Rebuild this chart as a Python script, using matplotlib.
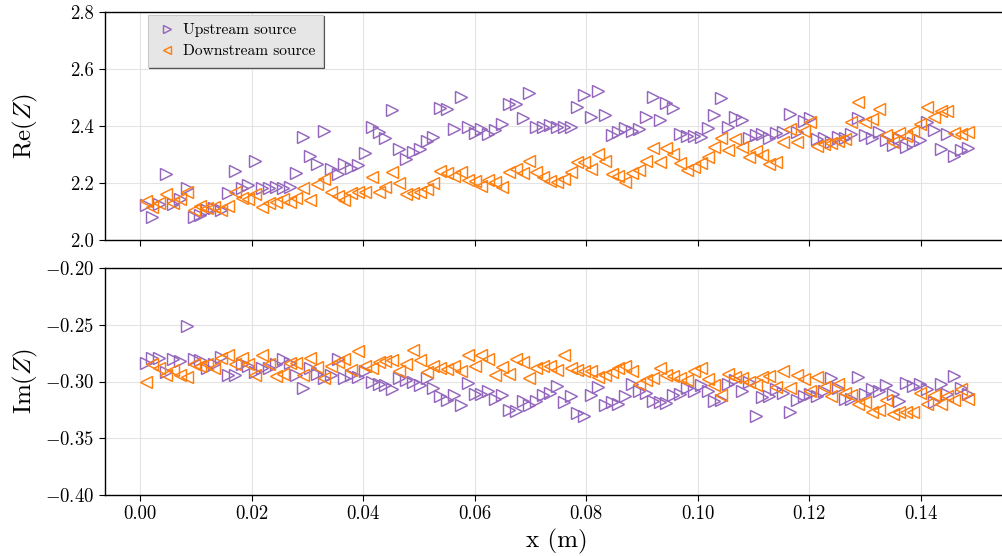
import numpy as np
import matplotlib
matplotlib.use("Agg")
import matplotlib.pyplot as plt

plt.rcParams["font.family"] = "serif"
plt.rcParams["font.serif"] = ["cmr10", "DejaVu Serif"]
plt.rcParams["mathtext.fontset"] = "cm"
plt.rcParams["axes.formatter.use_mathtext"] = True
plt.rcParams["axes.unicode_minus"] = True

# Measurement positions along the duct (m)
x_pos = np.linspace(0.001, 0.1485, 121)

# Real part of the impedance
re_upstream = [
    2.123, 2.080, 2.125, 2.232, 2.125, 2.144, 2.181, 2.080, 2.088, 2.105, 2.111, 2.105, 2.164, 2.243, 2.184, 2.193,
    2.278, 2.184, 2.184, 2.187, 2.184, 2.187, 2.236, 2.362, 2.295, 2.266, 2.383, 2.248, 2.232, 2.266, 2.252,
    2.263, 2.306, 2.398, 2.380, 2.359, 2.456, 2.320, 2.284, 2.310, 2.320, 2.347, 2.361, 2.464, 2.459, 2.388, 2.503,
    2.395, 2.374, 2.389, 2.371, 2.386, 2.406, 2.476, 2.476, 2.427, 2.515, 2.395, 2.395, 2.403, 2.398, 2.395,
    2.395, 2.468, 2.509, 2.433, 2.523, 2.439, 2.368, 2.380, 2.392, 2.382, 2.389, 2.430, 2.503, 2.421, 2.480, 2.464,
    2.371, 2.366, 2.366, 2.362, 2.394, 2.439, 2.497, 2.398, 2.433, 2.421, 2.357, 2.368, 2.371, 2.359, 2.374, 2.380,
    2.441, 2.380, 2.418, 2.429, 2.354, 2.357, 2.345, 2.362, 2.359, 2.371, 2.427, 2.368, 2.359, 2.380, 2.351, 2.333,
    2.359, 2.327, 2.339, 2.351, 2.413, 2.386, 2.319, 2.371, 2.295, 2.316, 2.324,
]
re_downstream = [
    2.137, 2.117, 2.129, 2.160, 2.129, 2.144, 2.170, 2.105, 2.119, 2.113, 2.117, 2.105, 2.120, 2.169, 2.148, 2.144,
    2.160, 2.117, 2.129, 2.134, 2.144, 2.132, 2.148, 2.181, 2.140, 2.195, 2.214, 2.167, 2.155, 2.140, 2.164,
    2.167, 2.167, 2.222, 2.167, 2.187, 2.237, 2.199, 2.160, 2.164, 2.169, 2.179, 2.199, 2.243, 2.234, 2.226, 2.237,
    2.210, 2.207, 2.190, 2.210, 2.202, 2.187, 2.239, 2.249, 2.234, 2.277, 2.239, 2.222, 2.207, 2.202, 2.214,
    2.237, 2.273, 2.273, 2.249, 2.301, 2.277, 2.230, 2.226, 2.202, 2.234, 2.246, 2.277, 2.324, 2.275, 2.324, 2.301,
    2.269, 2.246, 2.257, 2.269, 2.292, 2.327, 2.357, 2.316, 2.354, 2.327, 2.292, 2.312, 2.298, 2.266, 2.273, 2.345,
    2.389, 2.345, 2.382, 2.413, 2.331, 2.336, 2.339, 2.347, 2.354, 2.413, 2.483, 2.415, 2.425, 2.460, 2.368, 2.345,
    2.374, 2.366, 2.382, 2.406, 2.468, 2.433, 2.452, 2.452, 2.374, 2.371, 2.378,
]

# Imaginary part of the impedance
im_upstream = [
    -0.284, -0.279, -0.279, -0.292, -0.280, -0.282, -0.251, -0.280, -0.281, -0.288, -0.285, -0.278, -0.294, -0.294,
    -0.285, -0.286, -0.292, -0.288, -0.288, -0.285, -0.280, -0.284, -0.294, -0.306, -0.288, -0.293, -0.297, -0.294,
    -0.280, -0.297, -0.294,
    -0.296, -0.291, -0.300, -0.302, -0.303, -0.307, -0.297, -0.299, -0.300, -0.303, -0.297, -0.306, -0.313, -0.316,
    -0.312, -0.321, -0.301, -0.311, -0.311, -0.308, -0.315, -0.312, -0.325, -0.326, -0.317, -0.321, -0.317, -0.312,
    -0.310, -0.304, -0.318,
    -0.313, -0.328, -0.330, -0.312, -0.305, -0.321, -0.318, -0.320, -0.313, -0.302, -0.308, -0.310, -0.317, -0.318,
    -0.319, -0.312, -0.311, -0.306, -0.308, -0.303, -0.308, -0.317, -0.316, -0.302, -0.299, -0.308, -0.300, -0.330,
    -0.314, -0.313, -0.307, -0.310,
    -0.327, -0.316, -0.313, -0.311, -0.313, -0.308, -0.297, -0.306, -0.315, -0.315, -0.296, -0.311, -0.307, -0.308,
    -0.303, -0.311, -0.317, -0.301, -0.304, -0.302, -0.307, -0.318, -0.302, -0.311, -0.295, -0.306, -0.311,
]
im_downstream = [
    -0.300, -0.285, -0.288, -0.294, -0.290, -0.294, -0.296, -0.285, -0.286, -0.285, -0.288, -0.279, -0.277, -0.285,
    -0.279, -0.285, -0.294, -0.277, -0.285, -0.295, -0.293, -0.284, -0.284, -0.294, -0.279, -0.287, -0.297, -0.286,
    -0.283, -0.280, -0.290,
    -0.273, -0.286, -0.288, -0.283, -0.282, -0.281, -0.291, -0.285, -0.272, -0.281, -0.292, -0.286, -0.288, -0.289,
    -0.286, -0.291, -0.277, -0.286, -0.277, -0.280, -0.294, -0.287, -0.293, -0.280, -0.283, -0.297, -0.288, -0.286,
    -0.286, -0.290, -0.277,
    -0.288, -0.290, -0.291, -0.291, -0.296, -0.294, -0.292, -0.288, -0.286, -0.291, -0.302, -0.299, -0.297, -0.288,
    -0.294, -0.295, -0.297, -0.299, -0.291, -0.288, -0.298, -0.303, -0.312, -0.293, -0.296, -0.297, -0.300, -0.303,
    -0.296, -0.295, -0.305, -0.291,
    -0.306, -0.294, -0.298, -0.308, -0.296, -0.305, -0.313, -0.302, -0.310, -0.312, -0.320, -0.318, -0.327, -0.325,
    -0.316, -0.329, -0.327, -0.327, -0.327, -0.310, -0.320, -0.312, -0.320, -0.313, -0.316, -0.307, -0.315,
]

series_labels = ["Upstream source", "Downstream source"]
c_up = "#9467bd"
c_down = "#ff7f0e"

W, H = 1002, 556
fig = plt.figure(figsize=(W / 100, H / 100), dpi=100)

ax_left = 104.5 / W
ax_width = 904.6 / W
ax_re = fig.add_axes([ax_left, 1 - 240 / H, ax_width, 228 / H])
ax_im = fig.add_axes([ax_left, 1 - 495 / H, ax_width, 227 / H], sharex=ax_re)

mk = dict(linestyle="none", markersize=8, markerfacecolor="none", markeredgewidth=1.05)

ax_re.plot(x_pos, re_upstream, marker=">", color=c_up, label=series_labels[0], **mk)
ax_re.plot(x_pos, re_downstream, marker="<", color=c_down, label=series_labels[1], **mk)
ax_im.plot(x_pos, im_upstream, marker=">", color=c_up, **mk)
ax_im.plot(x_pos, im_downstream, marker="<", color=c_down, **mk)

ax_re.set_ylim(2.0, 2.8)
ax_re.set_yticks([2.0, 2.2, 2.4, 2.6, 2.8])
ax_im.set_ylim(-0.40, -0.20)
ax_im.set_yticks([-0.40, -0.35, -0.30, -0.25, -0.20])
ax_im.set_xticks([0.00, 0.02, 0.04, 0.06, 0.08, 0.10, 0.12, 0.14])

for ax in (ax_re, ax_im):
    ax.grid(True, color="#e3e3e3", linewidth=0.8)
    ax.set_axisbelow(True)
    ax.tick_params(labelsize=13.5, direction="out", length=4, width=0.8)
    for s in ax.spines.values():
        s.set_linewidth(1.0)
        s.set_color("black")

ax_re.tick_params(labelbottom=False)
ax_re.yaxis.set_major_formatter(matplotlib.ticker.FormatStrFormatter("%.1f"))
ax_im.yaxis.set_major_formatter(matplotlib.ticker.FormatStrFormatter("$%.2f$"))
ax_im.xaxis.set_major_formatter(matplotlib.ticker.FormatStrFormatter("%.2f"))

ax_re.set_ylabel(r"$\mathrm{Re}(Z)$", fontsize=18)
ax_im.set_ylabel(r"$\mathrm{Im}(Z)$", fontsize=18)
ax_re.yaxis.set_label_coords(-0.071, 0.5)
ax_im.yaxis.set_label_coords(-0.071, 0.5)
ax_im.set_xlabel("x (m)", fontsize=18, labelpad=4)

leg = ax_re.legend(loc="upper left", bbox_to_anchor=(0.0484, 0.988), borderaxespad=0,
                   fontsize=11.2, frameon=True, fancybox=False,
                   shadow={"ox": 0.7, "oy": -0.7, "color": "0.3", "alpha": 1.0},
                   markerscale=0.7, handletextpad=0.35, borderpad=0.55,
                   labelspacing=0.45, handlelength=1.3)
leg.get_frame().set_facecolor("#e6e6e6")
leg.get_frame().set_edgecolor("#c8c8c8")
leg.get_frame().set_linewidth(0.8)
leg.get_frame().set_alpha(1.0)

fig.savefig("out.png", dpi=100)
